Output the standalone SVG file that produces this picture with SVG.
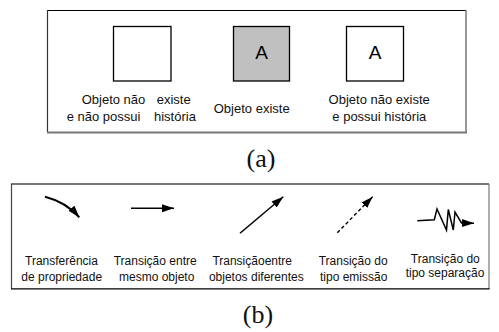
<svg xmlns="http://www.w3.org/2000/svg" width="499" height="332" viewBox="0 0 499 332">
<style>
.lbl{font-family:"Liberation Sans",Arial,sans-serif;font-size:13px;fill:#111}
.lbs{font-family:"Liberation Sans",Arial,sans-serif;font-size:12px;fill:#111}
.cap{font-family:"Liberation Serif","Times New Roman",serif;font-size:26px;fill:#111}
.big{font-family:"Liberation Sans",Arial,sans-serif;font-size:19px;fill:#000}
.sq{stroke:#000;stroke-width:1.3}
.ln{fill:none;stroke:#000}
</style>
<defs>
<marker id="ah" markerUnits="userSpaceOnUse" markerWidth="13" markerHeight="9" refX="12" refY="4" orient="auto">
<path d="M0,0 L12,4 L0,8 z" fill="#000"/>
</marker>
</defs>
<rect width="499" height="332" fill="#fff"/>
<g id="frame-a">
<line x1="47" y1="10.5" x2="466" y2="10.5" stroke="#000" stroke-width="1.2"/>
<line x1="47.5" y1="10" x2="47.5" y2="132" stroke="#333" stroke-width="1.2"/>
<line x1="466" y1="10" x2="466" y2="132" stroke="#777" stroke-width="1.5"/>
<line x1="47" y1="132.5" x2="467" y2="132.5" stroke="#777" stroke-width="2"/>
</g>
<g id="node-a1">
<rect class="sq" x="113.5" y="26.5" width="57.5" height="54.5" fill="#fff"/>
<text class="lbl"><tspan x="81.7" y="104">Objeto não</tspan><tspan x="156.7" y="104">existe</tspan><tspan x="66.7" y="120.5">e não possui</tspan><tspan x="154" y="120.5">história</tspan></text>
</g>
<g id="node-a2">
<rect class="sq" x="233.5" y="26.5" width="56" height="54.5" fill="#c0c0c0"/>
<text class="big" x="261.5" y="59.3" text-anchor="middle">A</text>
<text class="lbl" x="251.7" y="112.7" text-anchor="middle">Objeto existe</text>
</g>
<g id="node-a3">
<rect class="sq" x="346.5" y="26.5" width="57" height="54.5" fill="#fff"/>
<text class="big" x="375" y="59.3" text-anchor="middle">A</text>
<text class="lbl" text-anchor="middle"><tspan x="379.2" y="104">Objeto não existe</tspan><tspan x="379.3" y="120.5">e possui história</tspan></text>
</g>
<text class="cap" x="261" y="166.5" text-anchor="middle">(a)</text>
<g id="frame-b">
<line x1="11" y1="184" x2="489" y2="184" stroke="#777" stroke-width="2"/>
<line x1="11.5" y1="184" x2="11.5" y2="289" stroke="#444" stroke-width="1.2"/>
<line x1="489" y1="184" x2="489" y2="289" stroke="#777" stroke-width="1.2"/>
<line x1="11" y1="288.8" x2="489.5" y2="288.8" stroke="#000" stroke-width="1.2"/>
</g>
<g id="connectors">
<path class="ln" d="M45,196.7 Q66,202 79.3,217.3" stroke-width="2" marker-end="url(#ah)"/>
<line class="ln" x1="131" y1="208.3" x2="174" y2="208.3" stroke-width="1.6" marker-end="url(#ah)"/>
<line class="ln" x1="240" y1="233.3" x2="283.3" y2="196.7" stroke-width="1.5" marker-end="url(#ah)"/>
<line class="ln" x1="337.3" y1="232.7" x2="372.7" y2="196.7" stroke-width="1.4" stroke-dasharray="3.5,2.5" marker-end="url(#ah)"/>
<path class="ln" d="M417.3,220.7 L434.3,219.8 L437,209 L446.5,230 L448.3,209.5 L453.3,230 L455,212 L461.5,223 L474,223.3" stroke-width="1.5" stroke-linejoin="miter" marker-end="url(#ah)"/>
</g>
<g id="label-b1"><text class="lbs" text-anchor="middle"><tspan x="61.5" y="265">Transferência</tspan><tspan x="61.7" y="280.7">de propriedade</tspan></text></g>
<g id="label-b2"><text class="lbs" text-anchor="middle"><tspan x="155.2" y="265">Transição entre</tspan><tspan x="156.7" y="280.7">mesmo objeto</tspan></text></g>
<g id="label-b3"><text class="lbs" text-anchor="middle"><tspan x="252.2" y="265">Transiçãoentre</tspan><tspan x="256.3" y="280.7">objetos diferentes</tspan></text></g>
<g id="label-b4"><text class="lbs" text-anchor="middle"><tspan x="353.2" y="265">Transição do</tspan><tspan x="353.7" y="280.7">tipo emissão</tspan></text></g>
<g id="label-b5"><text class="lbs" text-anchor="middle"><tspan x="445.3" y="262.7">Transição do</tspan><tspan x="445" y="277.3">tipo separação</tspan></text></g>
<text class="cap" x="258" y="323" text-anchor="middle">(b)</text>
</svg>
